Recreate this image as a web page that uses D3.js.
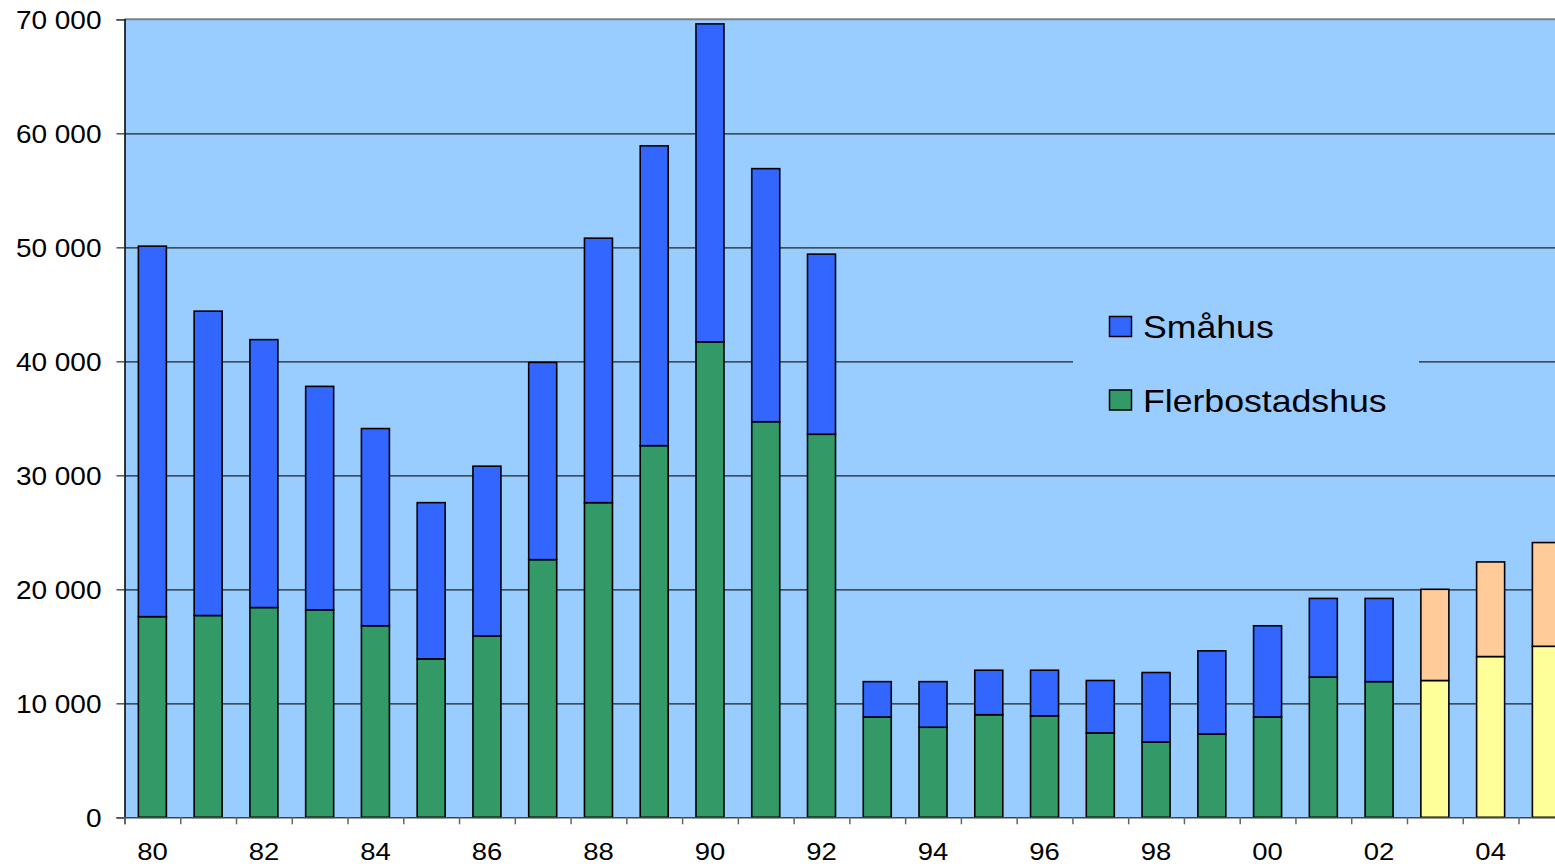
<!DOCTYPE html>
<html>
<head>
<meta charset="utf-8">
<script src="https://cdn.jsdelivr.net/npm/d3@7"></script>
<style>
html,body{margin:0;padding:0;background:#fff;overflow:hidden;}
svg{display:block;font-family:"Liberation Sans",Arial,sans-serif;}
</style>
</head>
<body>
<svg id="chart" width="1555" height="866"></svg>
<script>
// ---- data ----
const years = ["80","81","82","83","84","85","86","87","88","89","90","91","92","93","94","95","96","97","98","99","00","01","02","03","04","05"];
const flerbostadshus = [17600,17700,18400,18200,16800,13900,15900,22600,27600,32600,41700,34700,33600,8800,7900,9000,8900,7400,6600,7300,8800,12300,11900,12000,14100,15000];
const smahus = [32500,26700,23500,19600,17300,13700,14900,17300,23200,26300,27900,22200,15800,3100,4000,3900,4000,4600,6100,7300,8000,6900,7300,8000,8300,9100];
const prognosYears = ["03","04","05"];
const yTicks = [0,10000,20000,30000,40000,50000,60000,70000];
const xLabels = ["80","82","84","86","88","90","92","94","96","98","00","02","04"];
const seriesNames = ["Flerbostadshus","Småhus"];
const legendItems = ["Småhus","Flerbostadshus"];

const colors = {
  Flerbostadshus: "#339966",
  Småhus: "#3366FF",
  FlerbostadshusPrognos: "#FFFF99",
  SmåhusPrognos: "#FFCC99"
};

(function () {
const svg = d3.select("#chart");
const pLeft = 124.5, pTop = 19.3, pBottom = 817.3;
const step = 55.76;
const pRight = pLeft + step * years.length;

const x = d3.scaleBand().domain(years).range([pLeft, pRight]).paddingInner(0.5).paddingOuter(0.25);
const y = d3.scaleLinear().domain([0, 70000]).range([pBottom, pTop]);
const fmt = d3.formatLocale({decimal: ",", thousands: " ", grouping: [3], currency: ["", ""]}).format(",");

// plot background
svg.append("rect").attr("x", pLeft).attr("y", pTop).attr("width", pRight - pLeft).attr("height", pBottom - pTop).attr("fill", "#99CCFF");

// gridlines
const grid = svg.append("g").attr("transform", `translate(${pLeft},0)`)
  .call(d3.axisLeft(y).tickValues(yTicks.filter(d => d > 0 && d < 70000)).tickSize(-(pRight - pLeft)).tickFormat(""));
grid.select(".domain").remove();
grid.selectAll("line").attr("stroke", "#222").attr("stroke-width", 1.2);

// top border
svg.append("line").attr("x1", pLeft).attr("x2", pRight).attr("y1", y(70000)).attr("y2", y(70000)).attr("stroke", "#808080").attr("stroke-width", 2);

// legend background
const lg = svg.append("g");
lg.append("rect").attr("x", 1073).attr("y", 290).attr("width", 346).attr("height", 150).attr("fill", "#99CCFF");

// bars
const data = years.map((yr, i) => ({year: yr, Flerbostadshus: flerbostadshus[i], Småhus: smahus[i]}));
const stacked = d3.stack().keys(seriesNames)(data);
const barW = 28;
stacked.forEach(s => {
  svg.append("g").selectAll("rect").data(s).join("rect")
    .attr("x", d => x(d.data.year) + x.bandwidth() / 2 - barW / 2)
    .attr("width", barW)
    .attr("y", d => y(d[1]))
    .attr("height", d => y(d[0]) - y(d[1]))
    .attr("fill", d => prognosYears.includes(d.data.year) ? colors[s.key + "Prognos"] : colors[s.key])
    .attr("stroke", "#000").attr("stroke-width", 1.6);
});

// y axis
const yAxis = svg.append("g").attr("transform", `translate(${pLeft},0)`)
  .call(d3.axisLeft(y).tickValues(yTicks).tickSize(8).tickPadding(0).tickFormat(fmt));
yAxis.select(".domain").attr("stroke", "#000").attr("stroke-width", 1.5);
yAxis.selectAll(".tick line").attr("stroke", "#555").attr("stroke-width", 1.5);
yAxis.selectAll(".tick text").remove();
yAxis.selectAll(".tick").append("g")
  .attr("transform", "translate(-23,9.5) scale(1.12,1)")
  .append("text")
  .attr("text-anchor", "end").attr("font-size", 25).attr("fill", "#000")
  .text(d => fmt(d));

// x axis baseline and boundary ticks
const xi = d3.scaleLinear().domain([0, years.length]).range([pLeft, pRight]);
const xTickAxis = svg.append("g").attr("transform", `translate(0,${pBottom})`)
  .call(d3.axisBottom(xi).tickValues(d3.range(0, years.length + 1)).tickSize(7).tickFormat(""));
xTickAxis.select(".domain").attr("stroke", "#444").attr("stroke-width", 1.5);
xTickAxis.selectAll(".tick line").attr("stroke", "#666").attr("stroke-width", 1.5);

// x labels
const xAxis = svg.append("g").attr("transform", `translate(0,${pBottom})`)
  .call(d3.axisBottom(x).tickValues(xLabels).tickSize(0).tickFormat(""));
xAxis.select(".domain").remove();
xAxis.selectAll(".tick").append("g")
  .attr("transform", "translate(0,43) scale(1.12,1)")
  .append("text")
  .attr("text-anchor", "middle").attr("font-size", 24.5).attr("fill", "#000")
  .text(d => d);

// legend
const legendColors = {"Småhus": colors.Småhus, "Flerbostadshus": colors.Flerbostadshus};
const legendY = [327, 400.5];
legendItems.forEach((name, i) => {
  lg.append("rect").attr("x", 1109.5).attr("y", legendY[i] - 10.5).attr("width", 22).attr("height", 20)
    .attr("fill", legendColors[name]).attr("stroke", "#000").attr("stroke-width", 1.5);
  lg.append("g").attr("transform", `translate(1143,${legendY[i] + 11}) scale(1.15,1)`)
    .append("text").attr("font-size", 31).attr("fill", "#000").text(name);
});
})();
</script>
</body>
</html>
